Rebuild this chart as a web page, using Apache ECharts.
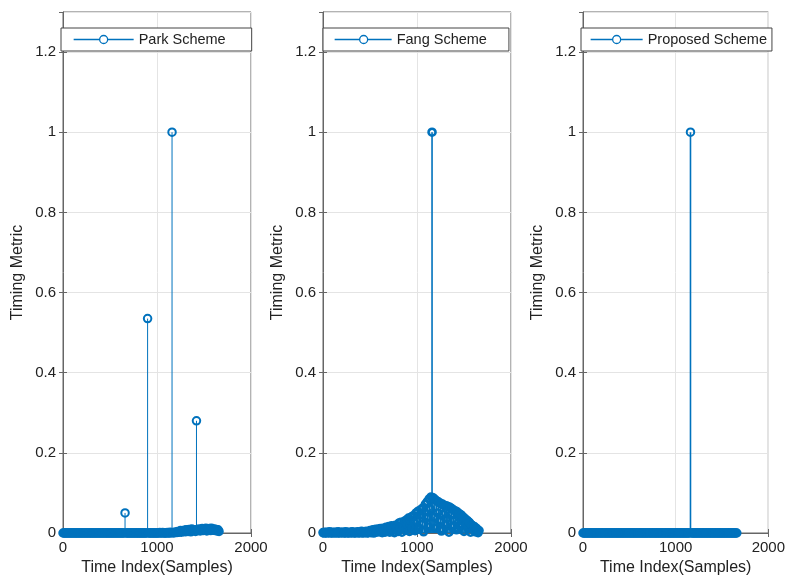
<!DOCTYPE html>
<html>
<head>
<meta charset="utf-8">
<script src="https://cdn.jsdelivr.net/npm/echarts@6/dist/echarts.min.js"></script>
<style>
  html, body { margin: 0; padding: 0; background: #fff; }
  #chart { width: 788px; height: 581px; }
</style>
</head>
<body>
<div id="chart"></div>
<script>
// 采样点 (每 10 个取一个)
var sampleIdx = [
  0, 10, 20, 30, 40, 50, 60, 70, 80, 90,
  100, 110, 120, 130, 140, 150, 160, 170, 180, 190,
  200, 210, 220, 230, 240, 250, 260, 270, 280, 290,
  300, 310, 320, 330, 340, 350, 360, 370, 380, 390,
  400, 410, 420, 430, 440, 450, 460, 470, 480, 490,
  500, 510, 520, 530, 540, 550, 560, 570, 580, 590,
  600, 610, 620, 630, 640, 650, 660, 670, 680, 690,
  700, 710, 720, 730, 740, 750, 760, 770, 780, 790,
  800, 810, 820, 830, 840, 850, 860, 870, 880, 890,
  900, 910, 920, 930, 940, 950, 960, 970, 980, 990,
  1000, 1010, 1020, 1030, 1040, 1050, 1060, 1070, 1080, 1090,
  1100, 1110, 1120, 1130, 1140, 1150, 1160, 1170, 1180, 1190,
  1200, 1210, 1220, 1230, 1240, 1250, 1260, 1270, 1280, 1290,
  1300, 1310, 1320, 1330, 1340, 1350, 1360, 1370, 1380, 1390,
  1400, 1410, 1420, 1430, 1440, 1450, 1460, 1470, 1480, 1490,
  1500, 1510, 1520, 1530, 1540, 1550, 1560, 1570, 1580, 1590,
  1600, 1610, 1620, 1630, 1640, 1650, 1660
];

var parkVal = [
  0, 0, 0, 0, 0, 0, 0, 0, 0, 0,
  0, 0, 0, 0, 0, 0, 0, 0, 0, 0,
  0, 0, 0, 0, 0, 0, 0, 0, 0, 0,
  0, 0, 0, 0, 0, 0, 0, 0, 0, 0,
  0, 0, 0, 0, 0, 0, 0, 0, 0, 0,
  0, 0, 0, 0, 0, 0, 0, 0, 0, 0,
  0, 0, 0, 0, 0, 0, 0.05, 0, 0, 0,
  0, 0, 0, 0, 0, 0, 0, 0, 0, 0,
  0, 0, 0, 0, 0, 0, 0, 0, 0, 0,
  0.535, 0, 0, 0, 0, 0, 0, 0, 0, 0,
  0, 0, 0, 0.001, 0, 0, 0.001, 0, 0, 0,
  0, 0.001, 0, 0, 0.002, 0, 1.0, 0.001, 0, 0.002,
  0.002, 0.001, 0.004, 0.002, 0.003, 0.006, 0.002, 0.005, 0.004, 0.007,
  0.003, 0.008, 0.005, 0.004, 0.009, 0.006, 0.003, 0.01, 0.006, 0.008,
  0.007, 0.004, 0.28, 0.009, 0.006, 0.01, 0.005, 0.008, 0.011, 0.006,
  0.009, 0.007, 0.012, 0.005, 0.01, 0.008, 0.011, 0.006, 0.012, 0.009,
  0.007, 0.01, 0.006, 0.009, 0.005, 0.008, 0.004
];

var fangVal = [
  0.001, 0, 0.002, 0.001, 0, 0.002, 0.001, 0.003, 0, 0.001,
  0.002, 0, 0.001, 0.002, 0.001, 0, 0.003, 0.001, 0, 0.002,
  0.001, 0.002, 0, 0.001, 0.003, 0, 0.002, 0.001, 0, 0.002,
  0.001, 0.003, 0, 0.002, 0.001, 0, 0.002, 0.003, 0.001, 0,
  0.002, 0.004, 0.001, 0, 0.003, 0.002, 0.004, 0, 0.001, 0.003,
  0.006, 0.001, 0.004, 0.008, 0, 0.005, 0.009, 0.002, 0.007, 0.01,
  0.003, 0.011, 0.006, 0.001, 0.012, 0.008, 0.002, 0.014, 0.005, 0.01,
  0.016, 0.002, 0.011, 0.018, 0.006, 0.013, 0.001, 0.019, 0.009, 0.015,
  0.004, 0.025, 0.013, 0.027, 0.002, 0.022, 0.016, 0.03, 0.007, 0.033,
  0.02, 0.037, 0.004, 0.031, 0.04, 0.012, 0.043, 0.026, 0.006, 0.05,
  0.03, 0.054, 0.01, 0.045, 0.058, 0.022, 0.062, 0.003, 0.052, 0.072,
  0.038, 0.078, 0.015, 0.085, 0.06, 0.09, 1.0, 0.088, 0.04, 0.084,
  0.012, 0.08, 0.05, 0.077, 0.028, 0.074, 0.005, 0.072, 0.046, 0.069,
  0.02, 0.068, 0.038, 0.066, 0.002, 0.064, 0.045, 0.061, 0.015, 0.057,
  0.032, 0.055, 0.008, 0.052, 0.04, 0.048, 0.018, 0.045, 0.03, 0.04,
  0.004, 0.036, 0.022, 0.032, 0.012, 0.028, 0.025, 0.002, 0.02, 0.018,
  0.008, 0.016, 0.003, 0.012, 0.009, 0.001, 0.006
];

var proposedVal = [
  0, 0, 0, 0, 0, 0, 0, 0, 0, 0,
  0, 0, 0, 0, 0, 0, 0, 0, 0, 0,
  0, 0, 0, 0, 0, 0, 0, 0, 0, 0,
  0, 0, 0, 0, 0, 0, 0, 0, 0, 0,
  0, 0, 0, 0, 0, 0, 0, 0, 0, 0,
  0, 0, 0, 0, 0, 0, 0, 0, 0, 0,
  0, 0, 0, 0, 0, 0, 0, 0, 0, 0,
  0, 0, 0, 0, 0, 0, 0, 0, 0, 0,
  0, 0, 0, 0, 0, 0, 0, 0, 0, 0,
  0, 0, 0, 0, 0, 0, 0, 0, 0, 0,
  0, 0, 0, 0, 0, 0, 0, 0, 0, 0,
  0, 0, 0, 0, 0, 0, 1.0, 0, 0, 0,
  0, 0, 0, 0, 0, 0, 0, 0, 0, 0,
  0, 0, 0, 0, 0, 0, 0, 0, 0, 0,
  0, 0, 0, 0, 0, 0, 0, 0, 0, 0,
  0, 0, 0, 0, 0, 0, 0, 0, 0, 0,
  0, 0, 0, 0, 0, 0, 0
];

var xTicks = [0, 1000, 2000];
var yTicks = [0, 0.2, 0.4, 0.6, 0.8, 1, 1.2];
var schemeNames = ['Park Scheme', 'Fang Scheme', 'Proposed Scheme'];

var FONT = 'Liberation Sans, Arial, sans-serif';
var BLUE = '#0072BD';

var panels = [
  { val: parkVal, left: 63, legendLeft: 61, iconW: 60, pad: [4, 26, 4, 12], stemW: 1, mk: 7.5, mkW: 2 },
  { val: fangVal, left: 323, legendLeft: 323, iconW: 57, pad: [4, 22, 4, 11], stemW: 1.6, mk: 7, mkW: 2.6 },
  { val: proposedVal, left: 583, legendLeft: 581, iconW: 52, pad: [4, 5, 4, 9], stemW: 1.6, mk: 7.5, mkW: 2 }
];

function iconPath(w) {
  var c = Math.round(w / 2);
  return 'path://M0,5L' + (c - 4) + ',5M' + (c + 4) + ',5L' + w + ',5' +
    'M' + (c - 4) + ',5A4,4,0,1,1,' + (c + 4) + ',5A4,4,0,1,1,' + (c - 4) + ',5';
}

var chart = echarts.init(document.getElementById('chart'), null, { renderer: 'canvas' });

var grids = [], xAxes = [], yAxes = [], legends = [], series = [];

panels.forEach(function (p, i) {
  var pts = sampleIdx.map(function (x, k) { return [x, p.val[k]]; });

  grids.push({
    left: p.left, top: 12, width: 188, height: 522,
    show: true, borderColor: '#666', borderWidth: 1, backgroundColor: '#fff'
  });

  // 下方 x 轴
  xAxes.push({
    gridIndex: i, type: 'value', position: 'bottom',
    min: xTicks[0], max: xTicks[xTicks.length - 1], interval: xTicks[1] - xTicks[0],
    name: 'Time Index(Samples)', nameLocation: 'middle', nameGap: 27,
    nameTextStyle: { fontFamily: FONT, fontSize: 16, color: '#222' },
    axisLine: { show: true, lineStyle: { color: '#666', width: 1 } },
    axisTick: { show: true, inside: true, length: 4, lineStyle: { color: '#666' } },
    axisLabel: {
      fontFamily: FONT, fontSize: 15, color: '#222', margin: 7,
      formatter: function (v) { return String(v); }
    },
    splitLine: { show: true, lineStyle: { color: '#e4e4e4', width: 1 } }
  });
  // 左侧 y 轴
  yAxes.push({
    gridIndex: i, type: 'value', position: 'left',
    min: 0, max: 1.3, interval: yTicks[1] - yTicks[0],
    name: 'Timing Metric', nameLocation: 'middle', nameGap: 37,
    nameTextStyle: { fontFamily: FONT, fontSize: 16, color: '#222' },
    axisLine: { show: true, lineStyle: { color: '#666', width: 1 } },
    axisTick: { show: true, inside: true, length: 4, lineStyle: { color: '#666' } },
    axisLabel: { fontFamily: FONT, fontSize: 15, color: '#222', margin: 7, showMaxLabel: false },
    splitLine: { show: true, lineStyle: { color: '#e4e4e4', width: 1 } }
  });

  legends.push({
    data: [schemeNames[i]],
    left: p.legendLeft, top: 28,
    orient: 'horizontal',
    padding: p.pad,
    backgroundColor: '#fff', borderColor: '#444', borderWidth: 1,
    itemWidth: p.iconW, itemHeight: 8,
    icon: iconPath(p.iconW),
    itemStyle: { color: 'rgba(0,0,0,0)', borderColor: BLUE, borderWidth: 1.3 },
    textStyle: { fontFamily: FONT, fontSize: 14.5, color: '#222' },
    selectedMode: false
  });

  // 茎线
  series.push({
    type: 'custom', name: schemeNames[i] + ' stem',
    xAxisIndex: i, yAxisIndex: i,
    data: pts, clip: false, silent: true,
    renderItem: function (params, api) {
      var a = api.coord([api.value(0), 0]);
      var b = api.coord([api.value(0), api.value(1)]);
      return {
        type: 'line',
        shape: { x1: a[0], y1: a[1], x2: b[0], y2: b[1] },
        style: { stroke: BLUE, lineWidth: p.stemW }
      };
    },
    z: 2
  });
  // 圆圈标记
  series.push({
    type: 'scatter', name: schemeNames[i],
    xAxisIndex: i, yAxisIndex: i,
    data: pts, clip: false, silent: true,
    symbol: 'circle', symbolSize: p.mk,
    itemStyle: { color: 'rgba(0,0,0,0)', borderColor: BLUE, borderWidth: p.mkW, opacity: 1 },
    z: 3
  });
});

// 上/右侧刻度 (box on)
panels.forEach(function (p, i) {
  xAxes.push({
    gridIndex: i, type: 'value', position: 'top',
    min: xTicks[0], max: xTicks[xTicks.length - 1], interval: xTicks[1] - xTicks[0],
    axisLine: { show: false }, axisLabel: { show: false }, splitLine: { show: false },
    axisTick: { show: true, inside: true, length: 4, lineStyle: { color: '#666' } }
  });
  yAxes.push({
    gridIndex: i, type: 'value', position: 'right',
    min: 0, max: 1.3, interval: yTicks[1] - yTicks[0],
    axisLine: { show: false }, axisLabel: { show: false }, splitLine: { show: false },
    axisTick: { show: true, inside: true, length: 4, lineStyle: { color: '#666' } }
  });
});

var option = {
  backgroundColor: '#fff',
  animation: false,
  grid: grids,
  xAxis: xAxes,
  yAxis: yAxes,
  legend: legends,
  series: series
};

chart.setOption(option);
</script>
</body>
</html>
